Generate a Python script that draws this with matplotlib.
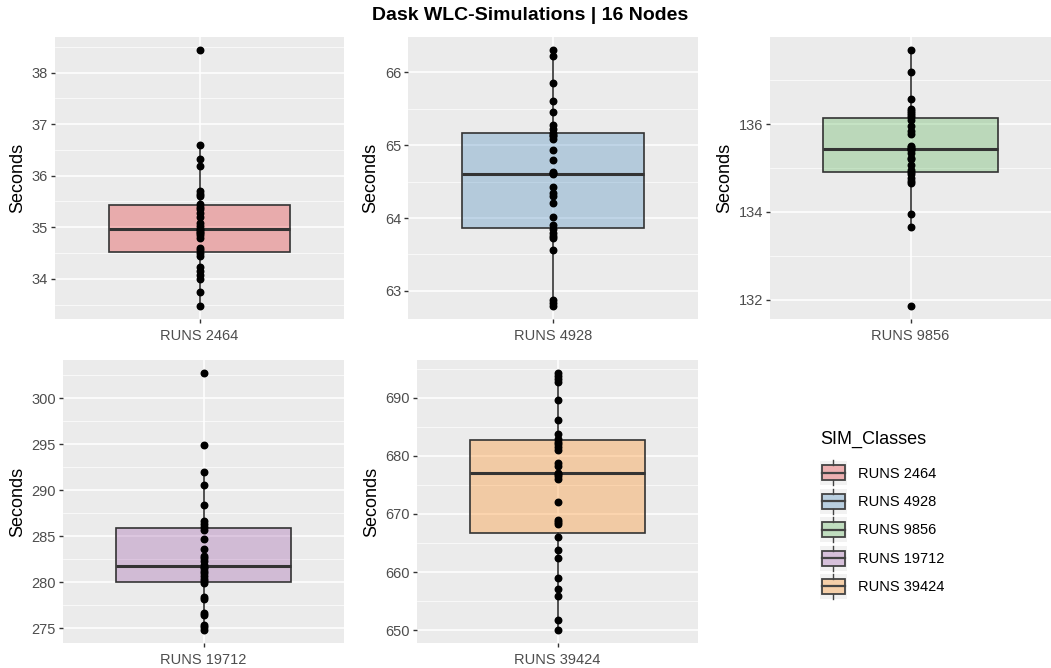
import numpy as np
import matplotlib
matplotlib.use('Agg')
import matplotlib.pyplot as plt
from matplotlib.patches import Rectangle, Patch
from matplotlib.lines import Line2D
from matplotlib.legend_handler import HandlerBase
from matplotlib.ticker import MultipleLocator, AutoMinorLocator

plt.rcParams['font.family'] = ['Liberation Sans', 'DejaVu Sans']

# data (seconds per run)
classes = ['RUNS 2464', 'RUNS 4928', 'RUNS 9856', 'RUNS 19712', 'RUNS 39424']

runs_2464 = [33.47, 33.74, 34.0, 34.08, 34.15, 34.22, 34.45, 34.5, 34.55, 34.6,
             34.8, 34.85, 34.88, 34.9, 34.95, 34.97, 35.02, 35.08, 35.2, 35.28,
             35.35, 35.4, 35.45, 35.6, 35.65, 35.7, 36.18, 36.33, 36.59, 38.44]
runs_4928 = [62.79, 62.83, 62.87, 63.56, 63.72, 63.76, 63.8, 63.85, 63.9, 64.02,
             64.2, 64.3, 64.35, 64.42, 64.6, 64.62, 64.63, 64.8, 64.93, 65.08,
             65.12, 65.14, 65.17, 65.22, 65.28, 65.46, 65.61, 65.86, 66.22, 66.31]
runs_9856 = [131.85, 133.66, 133.95, 134.65, 134.7, 134.78, 134.85, 134.9, 134.95, 135.06,
             135.2, 135.22, 135.35, 135.4, 135.42, 135.44, 135.48, 135.5, 135.78, 135.85,
             135.95, 136.08, 136.15, 136.2, 136.25, 136.3, 136.35, 136.57, 137.18, 137.69]
runs_19712 = [274.8, 275.1, 275.4, 276.4, 276.7, 278.2, 278.4, 279.95, 280.1, 280.4,
              280.7, 281.0, 281.2, 281.5, 281.7, 281.9, 282.3, 282.6, 282.8, 283.6,
              284.7, 285.7, 286.0, 286.3, 286.7, 288.4, 290.55, 292.0, 294.95, 302.75]
runs_39424 = [650.0, 651.7, 655.8, 657.0, 659.0, 662.5, 663.8, 666.1, 668.3, 668.6,
              668.9, 672.1, 676.1, 676.6, 676.9, 677.1, 678.3, 678.7, 681.0, 681.5,
              682.0, 682.4, 682.9, 683.8, 686.1, 689.7, 692.7, 693.2, 693.8, 694.3]

series = [runs_2464, runs_4928, runs_9856, runs_19712, runs_39424]
tick_steps = [1, 1, 2, 5, 10]
colours = ['#E41A1C', '#377EB8', '#4DAF4A', '#984EA3', '#FF7F00']

W, H = 1051, 668
# panel boxes in pixels: left, top, right, bottom
panels = [(55, 37, 344, 319), (408, 37, 698, 319), (770, 37, 1051, 319),
          (63, 360, 344, 643), (417, 360, 698, 643)]

fig = plt.figure(figsize=(W / 100, H / 100), dpi=100)

for vals, name, col, step, (l, t, r, b) in zip(series, classes, colours, tick_steps, panels):
    ax = fig.add_axes([l / W, 1 - b / H, (r - l) / W, (b - t) / H])
    ax.set_facecolor('#EBEBEB')
    for s in ax.spines.values():
        s.set_visible(False)
    ax.set_axisbelow(True)

    ax.boxplot([vals], positions=[1], widths=0.75, patch_artist=True,
               showfliers=False, showcaps=False, whis=1.5,
               boxprops=dict(facecolor=matplotlib.colors.to_rgba(col, 0.3),
                             edgecolor='#333333', linewidth=1.2),
               medianprops=dict(color='#333333', linewidth=2.2),
               whiskerprops=dict(color='#333333', linewidth=1.2))
    ax.scatter(np.ones(len(vals)), vals, s=22, color='black', zorder=5)

    lo, hi = min(vals), max(vals)
    pad = (hi - lo) * 0.05
    ax.set_ylim(lo - pad, hi + pad)
    ax.set_xlim(0.4, 1.6)
    ax.set_xticks([1])
    ax.set_xticklabels([name])
    ax.yaxis.set_major_locator(MultipleLocator(step))
    ax.yaxis.set_minor_locator(AutoMinorLocator(2))
    ax.grid(which='major', color='white', linewidth=1.1)
    ax.grid(which='minor', axis='y', color='white', linewidth=0.5)
    ax.tick_params(axis='both', which='major', length=3, width=1, color='#333333',
                   labelcolor='#4D4D4D', labelsize=10.5, pad=2)
    ax.tick_params(axis='x', pad=4)
    ax.tick_params(axis='y', which='minor', length=0)
    ax.set_ylabel('Seconds', fontsize=13, labelpad=4)

fig.text(530 / W, 1 - 16 / H, 'Dask WLC-Simulations | 16 Nodes',
         ha='center', va='center', fontsize=14, fontweight='bold')


class BoxKey(HandlerBase):
    def create_artists(self, legend, orig_handle, xdescent, ydescent, width, height, fontsize, trans):
        x0, y0 = -xdescent, -ydescent
        bg = Rectangle((x0, y0), width, height, facecolor='#F2F2F2', edgecolor='none', transform=trans)
        bw, bh = width * 0.84, height * 0.6
        bx, by = x0 + (width - bw) / 2, y0 + (height - bh) / 2
        box = Rectangle((bx, by), bw, bh, facecolor=orig_handle.get_facecolor(),
                        edgecolor='#444444', linewidth=1.3, transform=trans)
        cx = x0 + width / 2
        med = Line2D([bx, bx + bw], [y0 + height / 2] * 2, color='#444444', lw=1.6, transform=trans)
        wt = Line2D([cx, cx], [by + bh, y0 + height], color='#444444', lw=1, transform=trans)
        wb = Line2D([cx, cx], [y0, by], color='#444444', lw=1, transform=trans)
        return [bg, box, med, wt, wb]


fig.text(820 / W, 1 - 439 / H, 'SIM_Classes', ha='left', va='center', fontsize=13)
handles = [Patch(facecolor=matplotlib.colors.to_rgba(c, 0.3)) for c in colours]
fig.legend(handles, classes, handler_map={Patch: BoxKey()}, loc='upper left',
           bbox_to_anchor=(820 / W, 1 - 460.5 / H), frameon=False, fontsize=10.5,
           handlelength=1.85, handleheight=2.26, labelspacing=0.23,
           handletextpad=0.75, borderpad=0, borderaxespad=0)

fig.savefig('out.png', dpi=100)
